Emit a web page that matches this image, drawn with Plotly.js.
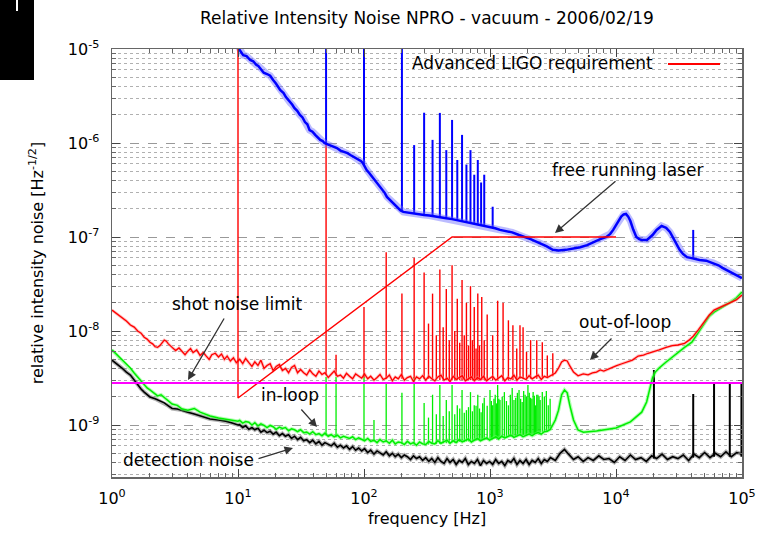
<!DOCTYPE html>
<html><head><meta charset="utf-8">
<script src="https://cdn.plot.ly/plotly-3.0.1.min.js"></script>
<style>html,body{margin:0;padding:0;background:#fff}#chart{width:767px;height:538px}</style>
</head><body><div id="chart"></div>
<script>
// ---------- free running laser (blue) ----------
const freeF = [9.6,10,10.5,11,11.7,12.5,13.2,14,14.5,15,16,17,18,19,20,21.6,23,24,25,26,27,28,29.5,31,32.5,34,35.5,37,39,41,43,45,47,48.5,52,55,58,61,65,70,74,78,82,86,90,95,98,103,105,110,115,120,127,133,140,146,152,160,170,178,185,195,205,220,235,250,270,300,330,370,400,450,500,560,630,700,760,830,900,1000,1100,1200,1350,1500,1700,1900,2100,2300,2500,2800,3150,3500,4000,4500,5200,5900,6600,7500,8400,9000,9500,10000,10500,11000,11500,12000,12500,13000,13700,14500,15300,16000,17600,18500,19500,21000,22000,23000,24000,25000,26800,29000,32000,34000,36600,39000,43000,46000,52000,59000,65000,70000,76000,82000,90000,95000,100000];
const freeV = [1.2e-5,1.05e-5,9.4e-6,8.6e-6,8.4e-6,7.64e-6,7.4e-6,6.76e-6,6.6e-6,6.28e-6,5.6e-6,5.42e-6,5.2e-6,4.68e-6,4.3e-6,3.66e-6,3.4e-6,3.08e-6,2.9e-6,2.67e-6,2.55e-6,2.36e-6,2.2e-6,1.99e-6,1.87e-6,1.67e-6,1.58e-6,1.37e-6,1.32e-6,1.22e-6,1.15e-6,1.08e-6,1.05e-6,1.0e-6,9.6e-7,9.3e-7,9.0e-7,8.85e-7,8.3e-7,8.0e-7,7.8e-7,7.45e-7,7.2e-7,6.92e-7,6.7e-7,6.4e-7,6.1e-7,5.4e-7,5.16e-7,4.8e-7,4.46e-7,4.1e-7,3.75e-7,3.5e-7,3.16e-7,2.95e-7,2.67e-7,2.5e-7,2.3e-7,2.15e-7,2.04e-7,1.92e-7,1.85e-7,1.82e-7,1.78e-7,1.76e-7,1.75e-7,1.71e-7,1.69e-7,1.64e-7,1.63e-7,1.58e-7,1.55e-7,1.5e-7,1.45e-7,1.41e-7,1.38e-7,1.34e-7,1.31e-7,1.28e-7,1.24e-7,1.19e-7,1.15e-7,1.12e-7,1.05e-7,1.0e-7,9.5e-8,9.0e-8,8.6e-8,8.0e-8,7.3e-8,7.2e-8,7.3e-8,7.5e-8,7.8e-8,8.2e-8,8.85e-8,9.5e-8,1.0e-7,1.08e-7,1.19e-7,1.32e-7,1.5e-7,1.65e-7,1.74e-7,1.76e-7,1.65e-7,1.48e-7,1.2e-7,1.0e-7,9.5e-8,9.3e-8,9.3e-8,9.8e-8,1.05e-7,1.19e-7,1.25e-7,1.31e-7,1.28e-7,1.25e-7,1.13e-7,9.3e-8,7.3e-8,6.6e-8,6.1e-8,6.0e-8,5.8e-8,5.7e-8,5.6e-8,5.3e-8,5.0e-8,4.7e-8,4.45e-8,4.2e-8,3.94e-8,3.8e-8,3.66e-8];
const freeSpikeF   = [50,100,200,250,300,350,400,450,500,550,600,650,700,750,800,850,900,1050,41000];
const freeSpikeTop = [1.2e-5,1.2e-5,1.2e-5,9.5e-7,2.1e-6,1.08e-6,2.09e-6,8.4e-7,1.76e-6,6.6e-7,1.22e-6,5.9e-7,8.4e-7,4.6e-7,6.6e-7,3.8e-7,4.6e-7,2.1e-7,1.19e-7];
const freeSpikeLow = [9.8e-7,5.8e-7,1.9e-7,1.76e-7,1.71e-7,1.66e-7,1.63e-7,1.58e-7,1.55e-7,1.5e-7,1.47e-7,1.44e-7,1.41e-7,1.39e-7,1.36e-7,1.33e-7,1.31e-7,1.26e-7,5.9e-8];

// ---------- common frequency grid 10 Hz .. 3 kHz (noisy middle section) ----------
const midF = [10.3,10.9,11.5,12.2,12.9,13.6,14.4,15.2,16.1,17.0,18.0,19.0,20.1,21.3,22.5,23.8,25.2,26.6,28.1,29.7,
  31.4,33.2,35.1,37.1,39.2,41.5,43.9,46.4,49,52,55,58,61.5,65,68.7,72.6,76.8,81.2,85.8,90.7,95.9,
  101,107,113,120,127,134,142,150,159,168,177,187,198,209,221,234,247,261,276,292,
  309,327,345,365,386,408,432,456,482,510,539,570,602,637,673,711,752,795,840,888,939,993,
  1050,1110,1173,1240,1311,1386,1465,1548,1637,1730,1829,1933,2044,2160,2284,2414,2552,2698,2852,3015];

// ---------- out-of-loop (red) ----------
const oolLowF = [1,1.1,1.2,1.3,1.4,1.5,1.6,1.7,1.8,1.9,2.0,2.1,2.2,2.3,2.4,2.5,2.6,2.7,2.8,
  3.0,3.2,3.4,3.6,3.8,4.0,4.2,4.4,4.7,5.0,5.3,5.6,5.9,6.2,6.6,7.0,7.4,7.8,8.2,8.7,9.2,9.7];
const oolLowV = [1.67e-8,1.52e-8,1.37e-8,1.28e-8,1.16e-8,1.10e-8,1.0e-8,9.5e-9,8.6e-9,8.2e-9,7.6e-9,7.3e-9,6.8e-9,6.7e-9,7.0e-9,7.6e-9,8.0e-9,7.8e-9,7.3e-9,
  6.7e-9,6.2e-9,6.6e-9,6.0e-9,5.6e-9,6.1e-9,6.5e-9,5.9e-9,6.3e-9,5.5e-9,5.9e-9,5.4e-9,5.0e-9,5.6e-9,5.8e-9,5.3e-9,5.7e-9,5.0e-9,5.4e-9,4.8e-9,5.2e-9,4.6e-9];
const oolMidV = [5.0e-9,4.5e-9,5.1e-9,4.6e-9,4.2e-9,4.7e-9,4.3e-9,4.9e-9,4.0e-9,4.3e-9,4.5e-9,3.8e-9,4.2e-9,4.4e-9,3.8e-9,4.0e-9,3.6e-9,4.1e-9,4.3e-9,3.6e-9,
  3.9e-9,3.6e-9,3.4e-9,3.85e-9,3.5e-9,3.3e-9,3.75e-9,3.45e-9,3.6e-9,3.2e-9,3.5e-9,3.75e-9,3.3e-9,3.4e-9,3.15e-9,3.55e-9,3.3e-9,3.1e-9,3.5e-9,3.35e-9,3.15e-9,
  3.5e-9,3.1e-9,3.3e-9,3.0e-9,3.2e-9,3.45e-9,3.05e-9,3.15e-9,3.4e-9,2.95e-9,3.25e-9,3.1e-9,3.45e-9,3.0e-9,3.2e-9,3.3e-9,2.9e-9,3.25e-9,3.1e-9,3.35e-9,
  3.0e-9,3.3e-9,3.1e-9,2.95e-9,3.25e-9,3.4e-9,3.0e-9,3.15e-9,2.9e-9,3.3e-9,3.05e-9,3.2e-9,3.35e-9,2.95e-9,3.1e-9,3.25e-9,2.95e-9,3.2e-9,3.05e-9,3.3e-9,2.95e-9,3.15e-9,
  3.3e-9,3.0e-9,3.15e-9,3.35e-9,2.95e-9,3.2e-9,3.1e-9,3.4e-9,3.0e-9,3.25e-9,3.15e-9,3.05e-9,3.35e-9,3.1e-9,3.25e-9,3.4e-9,3.05e-9,3.3e-9,3.2e-9,3.35e-9];
const oolHighF = [3300,3500,3700,3900,4100,4300,4600,5000,5500,6000,6500,7000,7500,8000,9000,10000,11000,12000,13500,15000,16500,18000,20000,22000,25000,28000,31000,35000,38000,41000,45000,50000,55000,60000,65000,70000,80000,90000,100000];
const oolHighV = [3.58e-9,4.04e-9,4.68e-9,4.9e-9,4.8e-9,4.25e-9,3.66e-9,3.34e-9,3.5e-9,3.42e-9,3.58e-9,3.66e-9,3.85e-9,3.75e-9,4.04e-9,4.25e-9,4.46e-9,4.68e-9,4.9e-9,5.42e-9,5.55e-9,5.8e-9,6.0e-9,6.3e-9,6.7e-9,7.0e-9,7.1e-9,7.4e-9,8.0e-9,8.8e-9,1.03e-8,1.25e-8,1.48e-8,1.67e-8,1.75e-8,1.85e-8,1.99e-8,2.14e-8,2.41e-8];
const oolSpikeF   = [50,60,100,150,200,250,300,325,350,375,400,425,450,475,500,525,550,575,600,625,650,675,700,725,750,775,800,825,860,900,950,1050,1150,1270,1400,1520,1630,1730,1830,1950,2100,2350,2600,2850,3150];
const oolSpikeTop = [1.0e-6,5.6e-9,1.8e-8,6.9e-8,2.5e-8,6.0e-8,4.2e-8,1.2e-8,2.5e-8,9e-9,4.5e-8,1.1e-8,2.8e-8,8e-9,5.0e-8,1.0e-8,2.2e-8,7.5e-9,3.5e-8,9e-9,2.0e-8,7e-9,3.0e-8,8e-9,1.8e-8,6.5e-9,2.5e-8,7e-9,2.3e-8,8e-9,1.5e-8,9e-9,2.1e-8,2.0e-8,1.3e-8,1.15e-8,6.5e-9,1.15e-8,1.1e-8,6e-9,8.0e-9,8.0e-9,7.6e-9,5.5e-9,5.8e-9];
const oolSpikeLow = [3.4e-9,3.3e-9,3.2e-9,3.1e-9,3.1e-9,3.1e-9,3.1e-9,3.1e-9,3.1e-9,3.1e-9,3.0e-9,3.0e-9,3.0e-9,3.0e-9,3.0e-9,3.0e-9,3.0e-9,3.0e-9,3.0e-9,3.0e-9,3.0e-9,3.0e-9,3.0e-9,3.0e-9,3.0e-9,3.0e-9,3.0e-9,3.0e-9,3.0e-9,3.0e-9,3.0e-9,3.0e-9,3.0e-9,3.0e-9,3.0e-9,3.0e-9,3.0e-9,3.1e-9,3.1e-9,3.1e-9,3.1e-9,3.1e-9,3.2e-9,3.2e-9,3.3e-9];

// ---------- in-loop (green) ----------
const ilLowF = [1,1.1,1.2,1.3,1.4,1.5,1.6,1.7,1.8,1.9,2.0,2.15,2.3,2.45,2.6,2.8,3.0,3.3,3.6,4.0,4.5,5.0,5.5,6.0,7.0,8.0,9,10];
const ilLowV = [6.3e-9,5.55e-9,4.9e-9,4.46e-9,4.04e-9,3.58e-9,3.24e-9,2.94e-9,2.67e-9,2.48e-9,2.36e-9,2.2e-9,2.04e-9,2.1e-9,1.95e-9,1.8e-9,1.67e-9,1.62e-9,1.48e-9,1.44e-9,1.5e-9,1.37e-9,1.31e-9,1.25e-9,1.19e-9,1.16e-9,1.13e-9,1.10e-9];
const ilMidV = [11.2e-10,10.5e-10,10.9e-10,10.7e-10,10.0e-10,10.6e-10,9.8e-10,10.3e-10,9.9e-10,9.4e-10,9.9e-10,9.6e-10,9.0e-10,9.5e-10,9.2e-10,9.4e-10,8.7e-10,9.1e-10,8.9e-10,8.5e-10,
  8.9e-10,8.3e-10,8.4e-10,8.0e-10,8.5e-10,7.9e-10,8.1e-10,7.7e-10,8.2e-10,7.6e-10,7.9e-10,7.5e-10,7.8e-10,7.3e-10,7.6e-10,7.4e-10,7.2e-10,7.5e-10,7.0e-10,7.3e-10,7.1e-10,
  6.8e-10,7.2e-10,6.7e-10,6.9e-10,6.5e-10,7.0e-10,6.6e-10,6.8e-10,6.4e-10,6.9e-10,6.3e-10,6.6e-10,6.5e-10,6.2e-10,6.7e-10,6.3e-10,6.5e-10,6.1e-10,6.6e-10,6.3e-10,
  6.2e-10,6.7e-10,6.4e-10,6.3e-10,6.8e-10,6.4e-10,6.6e-10,6.9e-10,6.4e-10,6.8e-10,6.5e-10,7.0e-10,6.6e-10,6.8e-10,7.1e-10,6.6e-10,6.9e-10,7.2e-10,6.8e-10,7.0e-10,7.3e-10,6.9e-10,
  7.2e-10,7.5e-10,7.1e-10,7.6e-10,7.3e-10,7.5e-10,7.8e-10,7.4e-10,7.7e-10,7.9e-10,7.5e-10,7.8e-10,8.0e-10,7.7e-10,8.1e-10,8.3e-10,8.0e-10,8.5e-10,8.6e-10,9.0e-10];
const ilHighF = [3300,3500,3700,3900,4100,4300,4600,5000,5500,7000,10000,13000,16000,17500,18500,19500,20500,22000,25000,28000,31000,35000,40000,45000,50000,55000,60000,70000,80000,90000,100000];
const ilHighV = [1.13e-9,1.44e-9,2.1e-9,2.36e-9,2.2e-9,1.62e-9,1.13e-9,8.85e-10,8.4e-10,8.63e-10,9.3e-10,1.08e-9,1.37e-9,1.76e-9,2.36e-9,3.19e-9,3.66e-9,4.04e-9,4.68e-9,5.3e-9,5.8e-9,6.7e-9,7.6e-9,9.5e-9,1.19e-8,1.44e-8,1.59e-8,1.8e-8,1.99e-8,2.24e-8,2.6e-8];
const ilSpikeF = [50,60,100,120,150,200,250,300,325,350,375,400,425,450,475,500,525,550,575,600,625,650,675,700,725,750,775,800,825,850,875,900,
  950,1000,1025,1050,1075,1100,1125,1150,1175,1200,1250,1300,1350,1400,1450,1500,1550,1600,1650,1700,1750,1800,1850,1900,
  1950,2000,2050,2100,2150,2200,2250,2300,2350,2400,2450,2500,2600,2700,2800,2900,3000];
const ilSpikeTop = [3.24e-9,3.24e-9,3.58e-9,1.13e-9,2.8e-9,2.2e-9,3.24e-9,1.72e-9,1.2e-9,2.1e-9,1.3e-9,2.67e-9,1.25e-9,1.85e-9,1.4e-9,2.67e-9,
  1.3e-9,1.62e-9,1.5e-9,2.36e-9,1.35e-9,1.44e-9,1.55e-9,2.24e-9,1.4e-9,1.62e-9,1.6e-9,2.1e-9,1.5e-9,1.37e-9,1.7e-9,1.95e-9,
  1.6e-9,2.36e-9,1.8e-9,1.62e-9,1.9e-9,2.1e-9,1.7e-9,2.67e-9,1.9e-9,1.85e-9,2.0e-9,2.24e-9,1.8e-9,1.62e-9,2.1e-9,2.48e-9,
  1.85e-9,1.95e-9,2.2e-9,2.36e-9,1.9e-9,1.76e-9,2.3e-9,2.1e-9,2.0e-9,2.67e-9,2.2e-9,1.95e-9,1.9e-9,2.24e-9,2.05e-9,1.62e-9,
  2.1e-9,2.1e-9,2.0e-9,1.85e-9,2.24e-9,2.0e-9,2.3e-9,1.62e-9,1.9e-9];
const ilSpikeLow = [7.7e-10,7.4e-10,6.8e-10,6.7e-10,6.6e-10,6.3e-10,6.2e-10,6.2e-10,6.2e-10,6.3e-10,6.3e-10,6.3e-10,6.4e-10,6.4e-10,6.4e-10,6.5e-10,
  6.5e-10,6.5e-10,6.6e-10,6.6e-10,6.6e-10,6.7e-10,6.7e-10,6.7e-10,6.8e-10,6.8e-10,6.8e-10,6.9e-10,6.9e-10,6.9e-10,7.0e-10,7.0e-10,
  7.0e-10,7.1e-10,7.1e-10,7.1e-10,7.2e-10,7.2e-10,7.2e-10,7.3e-10,7.3e-10,7.3e-10,7.4e-10,7.4e-10,7.4e-10,7.5e-10,7.5e-10,7.5e-10,
  7.6e-10,7.6e-10,7.6e-10,7.7e-10,7.7e-10,7.7e-10,7.8e-10,7.8e-10,7.8e-10,7.9e-10,7.9e-10,7.9e-10,8.0e-10,8.0e-10,8.0e-10,8.1e-10,
  8.1e-10,8.2e-10,8.2e-10,8.3e-10,8.4e-10,8.5e-10,8.6e-10,8.7e-10,8.8e-10];

// ---------- detection noise (black) ----------
const detLowF = [1,1.1,1.2,1.3,1.4,1.5,1.6,1.7,1.8,1.9,2.0,2.2,2.4,2.6,2.8,3.0,3.3,3.6,4,4.5,5,6,7,8,9,10];
const detLowV = [4.9e-9,4.46e-9,4.04e-9,3.66e-9,3.4e-9,3.01e-9,2.67e-9,2.42e-9,2.24e-9,2.1e-9,1.99e-9,1.9e-9,1.8e-9,1.72e-9,1.6e-9,1.5e-9,1.48e-9,1.44e-9,1.37e-9,1.31e-9,1.25e-9,1.16e-9,1.13e-9,1.1e-9,1.05e-9,1.0e-9];
const detMidV = [10.1e-10,9.4e-10,9.8e-10,9.0e-10,9.4e-10,8.9e-10,9.3e-10,8.4e-10,8.8e-10,8.3e-10,8.6e-10,8.0e-10,8.4e-10,7.7e-10,8.1e-10,7.6e-10,7.9e-10,7.2e-10,7.6e-10,7.0e-10,
  7.4e-10,6.8e-10,7.0e-10,6.5e-10,6.9e-10,6.3e-10,6.7e-10,6.1e-10,6.5e-10,6.2e-10,6.0e-10,6.4e-10,5.8e-10,6.1e-10,5.7e-10,6.0e-10,5.5e-10,5.9e-10,5.4e-10,5.7e-10,5.3e-10,
  5.6e-10,5.1e-10,5.4e-10,4.9e-10,5.3e-10,5.0e-10,4.8e-10,5.2e-10,4.7e-10,5.0e-10,4.6e-10,4.9e-10,4.5e-10,4.8e-10,4.6e-10,4.3e-10,4.7e-10,4.4e-10,4.6e-10,4.2e-10,
  4.5e-10,4.1e-10,4.4e-10,4.0e-10,4.5e-10,4.1e-10,3.9e-10,4.4e-10,4.0e-10,4.3e-10,3.8e-10,4.2e-10,4.0e-10,4.4e-10,3.8e-10,4.1e-10,3.9e-10,4.3e-10,3.7e-10,4.2e-10,3.9e-10,4.1e-10,
  3.8e-10,4.3e-10,3.9e-10,4.1e-10,3.7e-10,4.2e-10,4.0e-10,4.4e-10,3.8e-10,4.2e-10,3.9e-10,4.3e-10,3.8e-10,4.2e-10,4.0e-10,4.4e-10,3.9e-10,4.3e-10,4.1e-10,4.5e-10];
const detHighF = [3300,3600,3900,4200,4600,5000,5500,6000,6600,7300,8000,8800,9700,10700,11800,13000,14300,15800,17400,19200,21000,23200,25600,28200,31000,34200,37700,41500,45800,50500,55700,61400,67700,74600,82300,90700,100000];
const detHighV = [4.2e-10,5.0e-10,5.5e-10,4.9e-10,4.3e-10,4.6e-10,4.1e-10,4.5e-10,4.2e-10,4.7e-10,4.3e-10,4.4e-10,4.0e-10,4.6e-10,4.2e-10,4.8e-10,4.3e-10,4.5e-10,4.1e-10,4.7e-10,4.4e-10,4.9e-10,4.3e-10,4.6e-10,4.4e-10,4.8e-10,4.2e-10,4.9e-10,4.5e-10,5.1e-10,4.5e-10,5.0e-10,4.6e-10,5.2e-10,4.6e-10,5.1e-10,4.9e-10];
const detSpikeF   = [20000,41000,60000,80000,99000];
const detSpikeTop = [3.85e-9,2.14e-9,2.8e-9,2.8e-9,2.8e-9];
const detSpikeLow = [4.4e-10,4.5e-10,4.6e-10,4.6e-10,4.6e-10];

// ---------- shot noise limit & Advanced LIGO requirement ----------
const shotF = [1,100000];
const shotV = [2.8e-9,2.8e-9];
const reqF = [10,10,500,10000];
const reqV = [1e-5,1.94e-9,1e-7,1e-7];

// ---------- axis ticks ----------
const xTickVals = [1,10,100,1000,10000,100000];
const xTickText = ['10<sup>0</sup>','10<sup>1</sup>','10<sup>2</sup>','10<sup>3</sup>','10<sup>4</sup>','10<sup>5</sup>'];
const yTickVals = [1e-9,1e-8,1e-7,1e-6,1e-5];
const yTickText = ['10<sup>-9</sup>','10<sup>-8</sup>','10<sup>-7</sup>','10<sup>-6</sup>','10<sup>-5</sup>'];

const oolF = oolLowF.concat(midF, oolHighF), oolV = oolLowV.concat(oolMidV, oolHighV);
const ilF = ilLowF.concat(midF, ilHighF), ilV = ilLowV.concat(ilMidV, ilHighV);
const detF = detLowF.concat(midF, detHighF), detV = detLowV.concat(detMidV, detHighV);

function spikes(f, lo, hi){
  const x=[], y=[];
  for(let i=0;i<f.length;i++){ x.push(f[i],f[i],null); y.push(lo[i],hi[i],null); }
  return {x,y};
}
function minorVals(a,b){ const v=[]; for(let p=a;p<b;p++){ for(let d=2;d<=9;d++) v.push(d*Math.pow(10,p)); } return v; }

const FONT = 'DejaVu Sans, Liberation Sans, Arial, sans-serif';
const traces = [];
function addSeries(x,y,color,halo,w,hw,op){
  traces.push({x,y,type:'scatter',mode:'lines',line:{color:halo,width:hw},opacity:op,hoverinfo:'skip'});
  traces.push({x,y,type:'scatter',mode:'lines',line:{color:color,width:w}});
}
function addSpikes(s,color,w){
  traces.push({x:s.x,y:s.y,type:'scatter',mode:'lines',connectgaps:false,line:{color:color,width:w}});
}
addSeries(detF,detV,'#000000','#555555',1.6,4,0.45);
addSpikes(spikes(detSpikeF,detSpikeLow,detSpikeTop),'#000000',2);
addSpikes(spikes(ilSpikeF,ilSpikeLow,ilSpikeTop),'#00ee00',1.3);
addSeries(ilF,ilV,'#00ee00','#66ff66',1.5,3.5,0.5);
addSpikes(spikes(oolSpikeF,oolSpikeLow,oolSpikeTop),'#ff0000',1.4);
addSeries(oolF,oolV,'#ff0000','#ff8080',1.3,3,0.5);
addSpikes(spikes(freeSpikeF,freeSpikeLow,freeSpikeTop),'#0000ff',2);
addSeries(freeF,freeV,'#0000ff','#6a6aff',2.5,7,0.45);
traces.push({x:reqF,y:reqV,type:'scatter',mode:'lines',line:{color:'#ff0000',width:1.4}});
traces.push({x:shotF,y:shotV,type:'scatter',mode:'lines',line:{color:'#ff00ff',width:2.2}});

const L=112, R=742, T=49, B=477, PW=R-L, PH=B-T;
const px = v => (v-L)/PW, py = v => (B-v)/PH;
function txt(t,x,y,anchor){ return {text:t,xref:'paper',yref:'paper',x:px(x),y:py(y),xanchor:anchor||'center',yanchor:'middle',showarrow:false,font:{family:FONT,size:17,color:'#000'}}; }
function arr(hx,hy,tx,ty){ return {text:'',xref:'paper',yref:'paper',x:px(hx),y:py(hy),ax:tx-hx,ay:ty-hy,showarrow:true,arrowhead:2,arrowsize:1.3,arrowwidth:1.3,arrowcolor:'#333'}; }

const layout = {
  width:767,height:538,
  margin:{l:112,r:25,t:49,b:61},
  paper_bgcolor:'#fff',plot_bgcolor:'#fff',
  showlegend:false,
  font:{family:FONT,size:16,color:'#000'},
  title:{text:'Relative Intensity Noise NPRO - vacuum - 2006/02/19',font:{family:FONT,size:17,color:'#000'},xref:'paper',x:0.5,xanchor:'center',yref:'container',y:1-18/538,yanchor:'middle'},
  xaxis:{type:'log',range:[0,5],tickmode:'array',tickvals:xTickVals,ticktext:xTickText,
    ticks:'inside',ticklen:8,tickwidth:1,tickcolor:'#444',mirror:'allticks',showline:true,linecolor:'#666',linewidth:1.5,
    showgrid:false,zeroline:false,ticklabelstandoff:6,tickfont:{family:FONT,size:16,color:'#000'},
    minor:{tickmode:'array',tickvals:minorVals(0,5),ticks:'inside',ticklen:4,tickcolor:'#666',showgrid:false},
    title:{text:'frequency [Hz]',font:{family:FONT,size:16,color:'#000'},standoff:6}},
  yaxis:{type:'log',range:[Math.log10(2.8e-10),-5],tickmode:'array',tickvals:yTickVals,ticktext:yTickText,
    ticks:'inside',ticklen:8,tickwidth:1,tickcolor:'#444',mirror:'allticks',showline:true,linecolor:'#666',linewidth:1.5,
    showgrid:true,gridcolor:'#999',griddash:'dash',gridwidth:1,zeroline:false,ticklabelstandoff:8,tickfont:{family:FONT,size:16,color:'#000'},
    minor:{tickmode:'array',tickvals:minorVals(-10,-5),ticks:'inside',ticklen:4,tickcolor:'#666',showgrid:true,gridcolor:'#b0b0b0',griddash:'dot',gridwidth:1},
    title:{text:'relative intensity noise [Hz<sup>-1/2</sup>]',font:{family:FONT,size:16,color:'#000'},standoff:20}},
  shapes:[
    {type:'rect',xref:'paper',yref:'paper',x0:px(0),x1:px(34),y0:py(80),y1:py(0),fillcolor:'#000',line:{width:0},layer:'above'},
    {type:'line',xref:'paper',yref:'paper',x0:px(17),x1:px(17),y0:py(0),y1:py(11),line:{color:'#fff',width:2},layer:'above'},
    {type:'line',xref:'paper',yref:'paper',x0:px(668),x1:px(720),y0:py(64),y1:py(64),line:{color:'#ff0000',width:2}}
  ],
  annotations:[
    txt('Advanced LIGO requirement',655,63,'right'),
    txt('free running laser',627,170),
    txt('shot noise limit',237,304),
    txt('out-of-loop',625,322),
    txt('in-loop',290,395),
    txt('detection noise',188,460),
    arr(555,233,617,180),
    arr(188,380,225,317),
    arr(590,360,613,337),
    arr(317,427,300,408),
    arr(293,448,257,459)
  ]
};
Plotly.newPlot('chart',traces,layout,{staticPlot:true,displayModeBar:false});
</script></body></html>
